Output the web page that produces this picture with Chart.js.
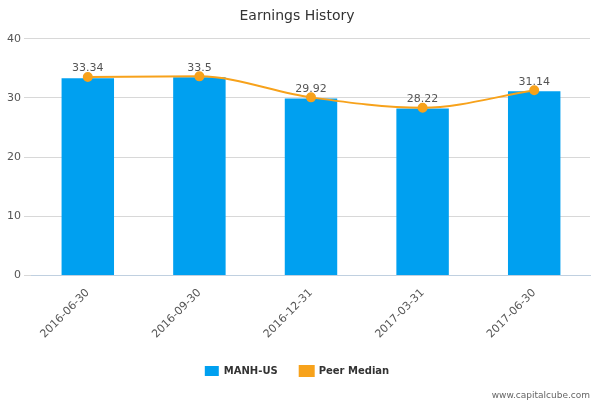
<!DOCTYPE html>
<html lang="en">
<head>
    <meta charset="UTF-8">
    <title>Earnings History</title>
    <script src="https://cdn.jsdelivr.net/npm/chart.js"></script>
    <style>
        body { margin: 0; background: #fff; }
    </style>
</head>
<body>
    <canvas id="earningsChart" width="600" height="400"></canvas>
    <script>
        const categories = ['2016-06-30', '2016-09-30', '2016-12-31', '2017-03-31', '2017-06-30'];
        const companyValues = [33.34, 33.5, 29.92, 28.22, 31.14];
        const peerMedian = [33.55, 33.65, 30.1, 28.35, 31.3];
        const yTicks = [0, 10, 20, 30, 40];

        // draws the bar value above each bar
        const valueLabels = {
            id: 'valueLabels',
            afterDatasetsDraw(chart) {
                const ctx = chart.ctx;
                const meta = chart.getDatasetMeta(0);
                ctx.save();
                ctx.font = '11px "DejaVu Sans"';
                ctx.fillStyle = '#555';
                ctx.textAlign = 'center';
                ctx.textBaseline = 'bottom';
                meta.data.forEach((bar, i) => {
                    const lineY = chart.getDatasetMeta(1).data[i].y;
                    ctx.fillText(String(companyValues[i]), bar.x, Math.min(bar.y, lineY) - 3);
                });
                ctx.restore();
            }
        };

        // footer credit
        const credit = {
            id: 'credit',
            afterDraw(chart) {
                const ctx = chart.ctx;
                ctx.save();
                ctx.font = '9px "DejaVu Sans"';
                ctx.fillStyle = '#666';
                ctx.textAlign = 'right';
                ctx.fillText('www.capitalcube.com', 590, 396);
                ctx.restore();
            }
        };

        new Chart(document.getElementById('earningsChart'), {
            data: {
                labels: categories,
                datasets: [
                    {
                        type: 'bar',
                        label: 'MANH-US',
                        data: companyValues,
                        backgroundColor: '#00a0f0',
                        barPercentage: 0.47,
                        categoryPercentage: 1,
                        order: 2
                    },
                    {
                        type: 'line',
                        label: 'Peer Median',
                        data: peerMedian,
                        borderColor: '#f7a21b',
                        backgroundColor: '#f7a21b',
                        borderWidth: 2,
                        pointRadius: 4,
                        cubicInterpolationMode: 'monotone',
                        order: 1
                    }
                ]
            },
            options: {
                responsive: false,
                animation: false,
                devicePixelRatio: 1,
                layout: { padding: { left: 4, right: 10, top: 0, bottom: 14 } },
                scales: {
                    x: {
                        grid: { display: false },
                        border: { color: '#c0d0e0' },
                        ticks: {
                            color: '#555',
                            font: { size: 11, family: 'DejaVu Sans' },
                            maxRotation: 45,
                            minRotation: 45
                        }
                    },
                    y: {
                        min: 0,
                        max: 40,
                        afterBuildTicks(axis) { axis.ticks = yTicks.map(v => ({ value: v })); },
                        grid: { color: '#d8d8d8' },
                        border: { display: false },
                        ticks: { color: '#555', font: { size: 11, family: 'DejaVu Sans' } }
                    }
                },
                plugins: {
                    title: {
                        display: true,
                        text: 'Earnings History',
                        color: '#333',
                        font: { size: 14, family: 'DejaVu Sans', weight: 'normal' },
                        padding: { top: 8, bottom: 14 }
                    },
                    legend: {
                        position: 'bottom',
                        labels: {
                            color: '#333',
                            font: { size: 10, family: 'DejaVu Sans', weight: 'bold' },
                            boxWidth: 14,
                            boxHeight: 10,
                            padding: 22,
                            sort: (a, b) => a.datasetIndex - b.datasetIndex
                        }
                    },
                    tooltip: { enabled: false }
                }
            },
            plugins: [valueLabels, credit]
        });
    </script>
</body>
</html>
